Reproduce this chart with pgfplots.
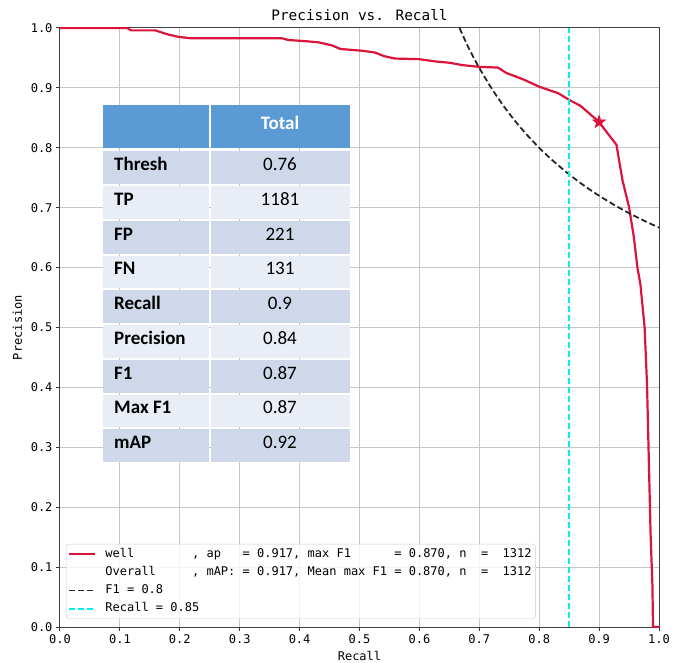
\documentclass[border=0pt]{standalone}
\usepackage{fontspec}
\setmainfont{DejaVu Sans Mono}
\newfontfamily\calfont{Carlito}
\usepackage{pgfplots}
\pgfplotsset{compat=1.18}
\definecolor{crim}{HTML}{DC143C}
\definecolor{cyn}{HTML}{00F0F0}
\definecolor{thead}{HTML}{5B9BD5}
\definecolor{tdark}{HTML}{CFD8EB}
\definecolor{tlight}{HTML}{E9EDF5}
\pgfdeclareplotmark{fstar}{%
  \pgfpathmoveto{\pgfpointpolar{90}{\pgfplotmarksize}}%
  \pgfpathlineto{\pgfpointpolar{126}{0.4\pgfplotmarksize}}%
  \pgfpathlineto{\pgfpointpolar{162}{\pgfplotmarksize}}%
  \pgfpathlineto{\pgfpointpolar{198}{0.4\pgfplotmarksize}}%
  \pgfpathlineto{\pgfpointpolar{234}{\pgfplotmarksize}}%
  \pgfpathlineto{\pgfpointpolar{270}{0.4\pgfplotmarksize}}%
  \pgfpathlineto{\pgfpointpolar{306}{\pgfplotmarksize}}%
  \pgfpathlineto{\pgfpointpolar{342}{0.4\pgfplotmarksize}}%
  \pgfpathlineto{\pgfpointpolar{18}{\pgfplotmarksize}}%
  \pgfpathlineto{\pgfpointpolar{54}{0.4\pgfplotmarksize}}%
  \pgfpathclose\pgfusepathqfillstroke}
\begin{document}
\begin{tikzpicture}
\path[use as bounding box] (-60pt,-35pt) rectangle (626pt,627pt);
\begin{axis}[scale only axis, width=599pt, height=599pt,
  xmin=0, xmax=1, ymin=0, ymax=1,
  xtick={0,0.1,0.2,0.3,0.4,0.5,0.6,0.7,0.8,0.9,1},
  ytick={0,0.1,0.2,0.3,0.4,0.5,0.6,0.7,0.8,0.9,1},
  /pgf/number format/.cd, fixed, fixed zerofill, precision=1, assume math mode=true, /pgfplots/.cd,
  tick label style={font=\fontsize{12}{14}\selectfont},
  axis line style={black!75, line width=1pt},
  tick style={black!80, line width=1pt}, tick align=outside, major tick length=4pt,
  xtick pos=bottom, ytick pos=left,
  grid=major, major grid style={black!22, line width=1pt},
  title={Precision vs. Recall},
  title style={at={([yshift=1pt]axis description cs:0.5,1)}, anchor=base, font=\fontsize{14.4}{16}\selectfont},
  xlabel={Recall}, ylabel={Precision},
  xlabel style={at={([yshift=-33pt]axis description cs:0.5,0)}, anchor=base, font=\fontsize{12}{14}\selectfont},
  ylabel style={at={([xshift=-38pt]axis description cs:0,0.5)}, anchor=base, font=\fontsize{12}{14}\selectfont},
  legend cell align=left,
  legend image code/.code={\draw[#1] (0pt,0pt) -- (26pt,0pt); \path (33pt,0pt);},
  legend style={at={(axis description cs:0.01,0.0134)}, anchor=south west,
    font=\fontsize{12}{14}\selectfont, draw=black!20, rounded corners=3pt,
    fill=white, fill opacity=0.8, text opacity=1, inner xsep=2pt, inner ysep=2pt,
    row sep=2.2pt, nodes={inner sep=2pt, text height=9pt, text depth=3pt}},
]
\addplot[crim, line width=2.2pt, line join=round] coordinates {
(0,1.0) (0.112,1.0) (0.119,0.996) (0.159,0.996) (0.181,0.989) (0.199,0.985)
(0.217,0.983) (0.370,0.983) (0.381,0.980) (0.410,0.978) (0.432,0.976) (0.454,0.971)
(0.468,0.965) (0.505,0.962) (0.526,0.959) (0.541,0.953) (0.559,0.949) (0.599,0.948)
(0.628,0.944) (0.650,0.942) (0.672,0.938) (0.701,0.935) (0.731,0.934) (0.745,0.925)
(0.774,0.914) (0.800,0.902) (0.832,0.891) (0.850,0.880) (0.869,0.870) (0.899,0.844)
(0.929,0.805) (0.939,0.746) (0.950,0.701) (0.958,0.651) (0.964,0.600) (0.969,0.572)
(0.976,0.500) (0.980,0.405) (0.982,0.321) (0.984,0.237) (0.986,0.154) (0.989,0.070)
(0.990,0.0) (1.0,0.0)};
\addlegendentry{well\ \ \ \ \ \ \ \ , ap\ \ \ = 0.917, max F1\ \ \ \ \ \ = 0.870, n\ \ =\ \ 1312}
\addlegendimage{empty legend}
\addlegendentry{Overall\ \ \ \ \ , mAP: = 0.917, Mean max F1 = 0.870, n\ \ =\ \ 1312}
\addplot[black!85, line width=1.8pt, dash pattern=on 6pt off 3pt, smooth] coordinates {
(0.667,1.0) (0.68,0.9714) (0.69,0.9517) (0.70,0.9333) (0.72,0.9) (0.74,0.8706)
(0.76,0.8444) (0.78,0.8211) (0.80,0.8) (0.82,0.781) (0.85,0.7556) (0.875,0.7368)
(0.90,0.72) (0.925,0.7048) (0.95,0.6909) (0.975,0.6783) (1.0,0.6667)};
\addlegendentry{F1 = 0.8}
\addplot[cyn, line width=1.8pt, dash pattern=on 6pt off 3pt] coordinates {(0.85,0) (0.85,1)};
\addlegendentry{Recall = 0.85}
\addplot[forget plot, only marks, mark=fstar, mark size=7pt, color=crim, fill=crim] coordinates {(0.9,0.843)};
\end{axis}
% table overlay (pixel-like pt units, axis origin at 0,0)
\fill[thead] (42.7pt,522pt) rectangle (149pt,478.5pt);
\fill[thead] (151pt,522pt) rectangle (290pt,478.5pt);
\node[font=\calfont\bfseries\fontsize{19}{21}\selectfont, text=white, anchor=mid] at (220pt,500pt) {Total};
\foreach \lab/\val [count=\i] in {Thresh/0.76,TP/1181,FP/221,FN/131,Recall/0.9,Precision/0.84,F1/0.87,Max F1/0.87,mAP/0.92}{
  \pgfmathsetmacro\yt{627-150.5-34.75*(\i-1)-1}
  \pgfmathsetmacro\yb{627-150.5-34.75*\i+1}
  \pgfmathsetmacro\ym{(\yt+\yb)/2}
  \ifodd\i \def\cc{tdark}\else\def\cc{tlight}\fi
  \fill[\cc] (42.7pt,\yt pt) rectangle (149pt,\yb pt);
  \fill[\cc] (151pt,\yt pt) rectangle (290pt,\yb pt);
  \node[anchor=mid west, inner sep=0pt, font=\calfont\bfseries\fontsize{19}{21}\selectfont] at (54pt,\ym pt) {\lab};
  \node[anchor=mid, inner sep=0pt, font=\calfont\fontsize{19}{21}\selectfont] at (220pt,\ym pt) {\val};
}
\end{tikzpicture}
\end{document}
